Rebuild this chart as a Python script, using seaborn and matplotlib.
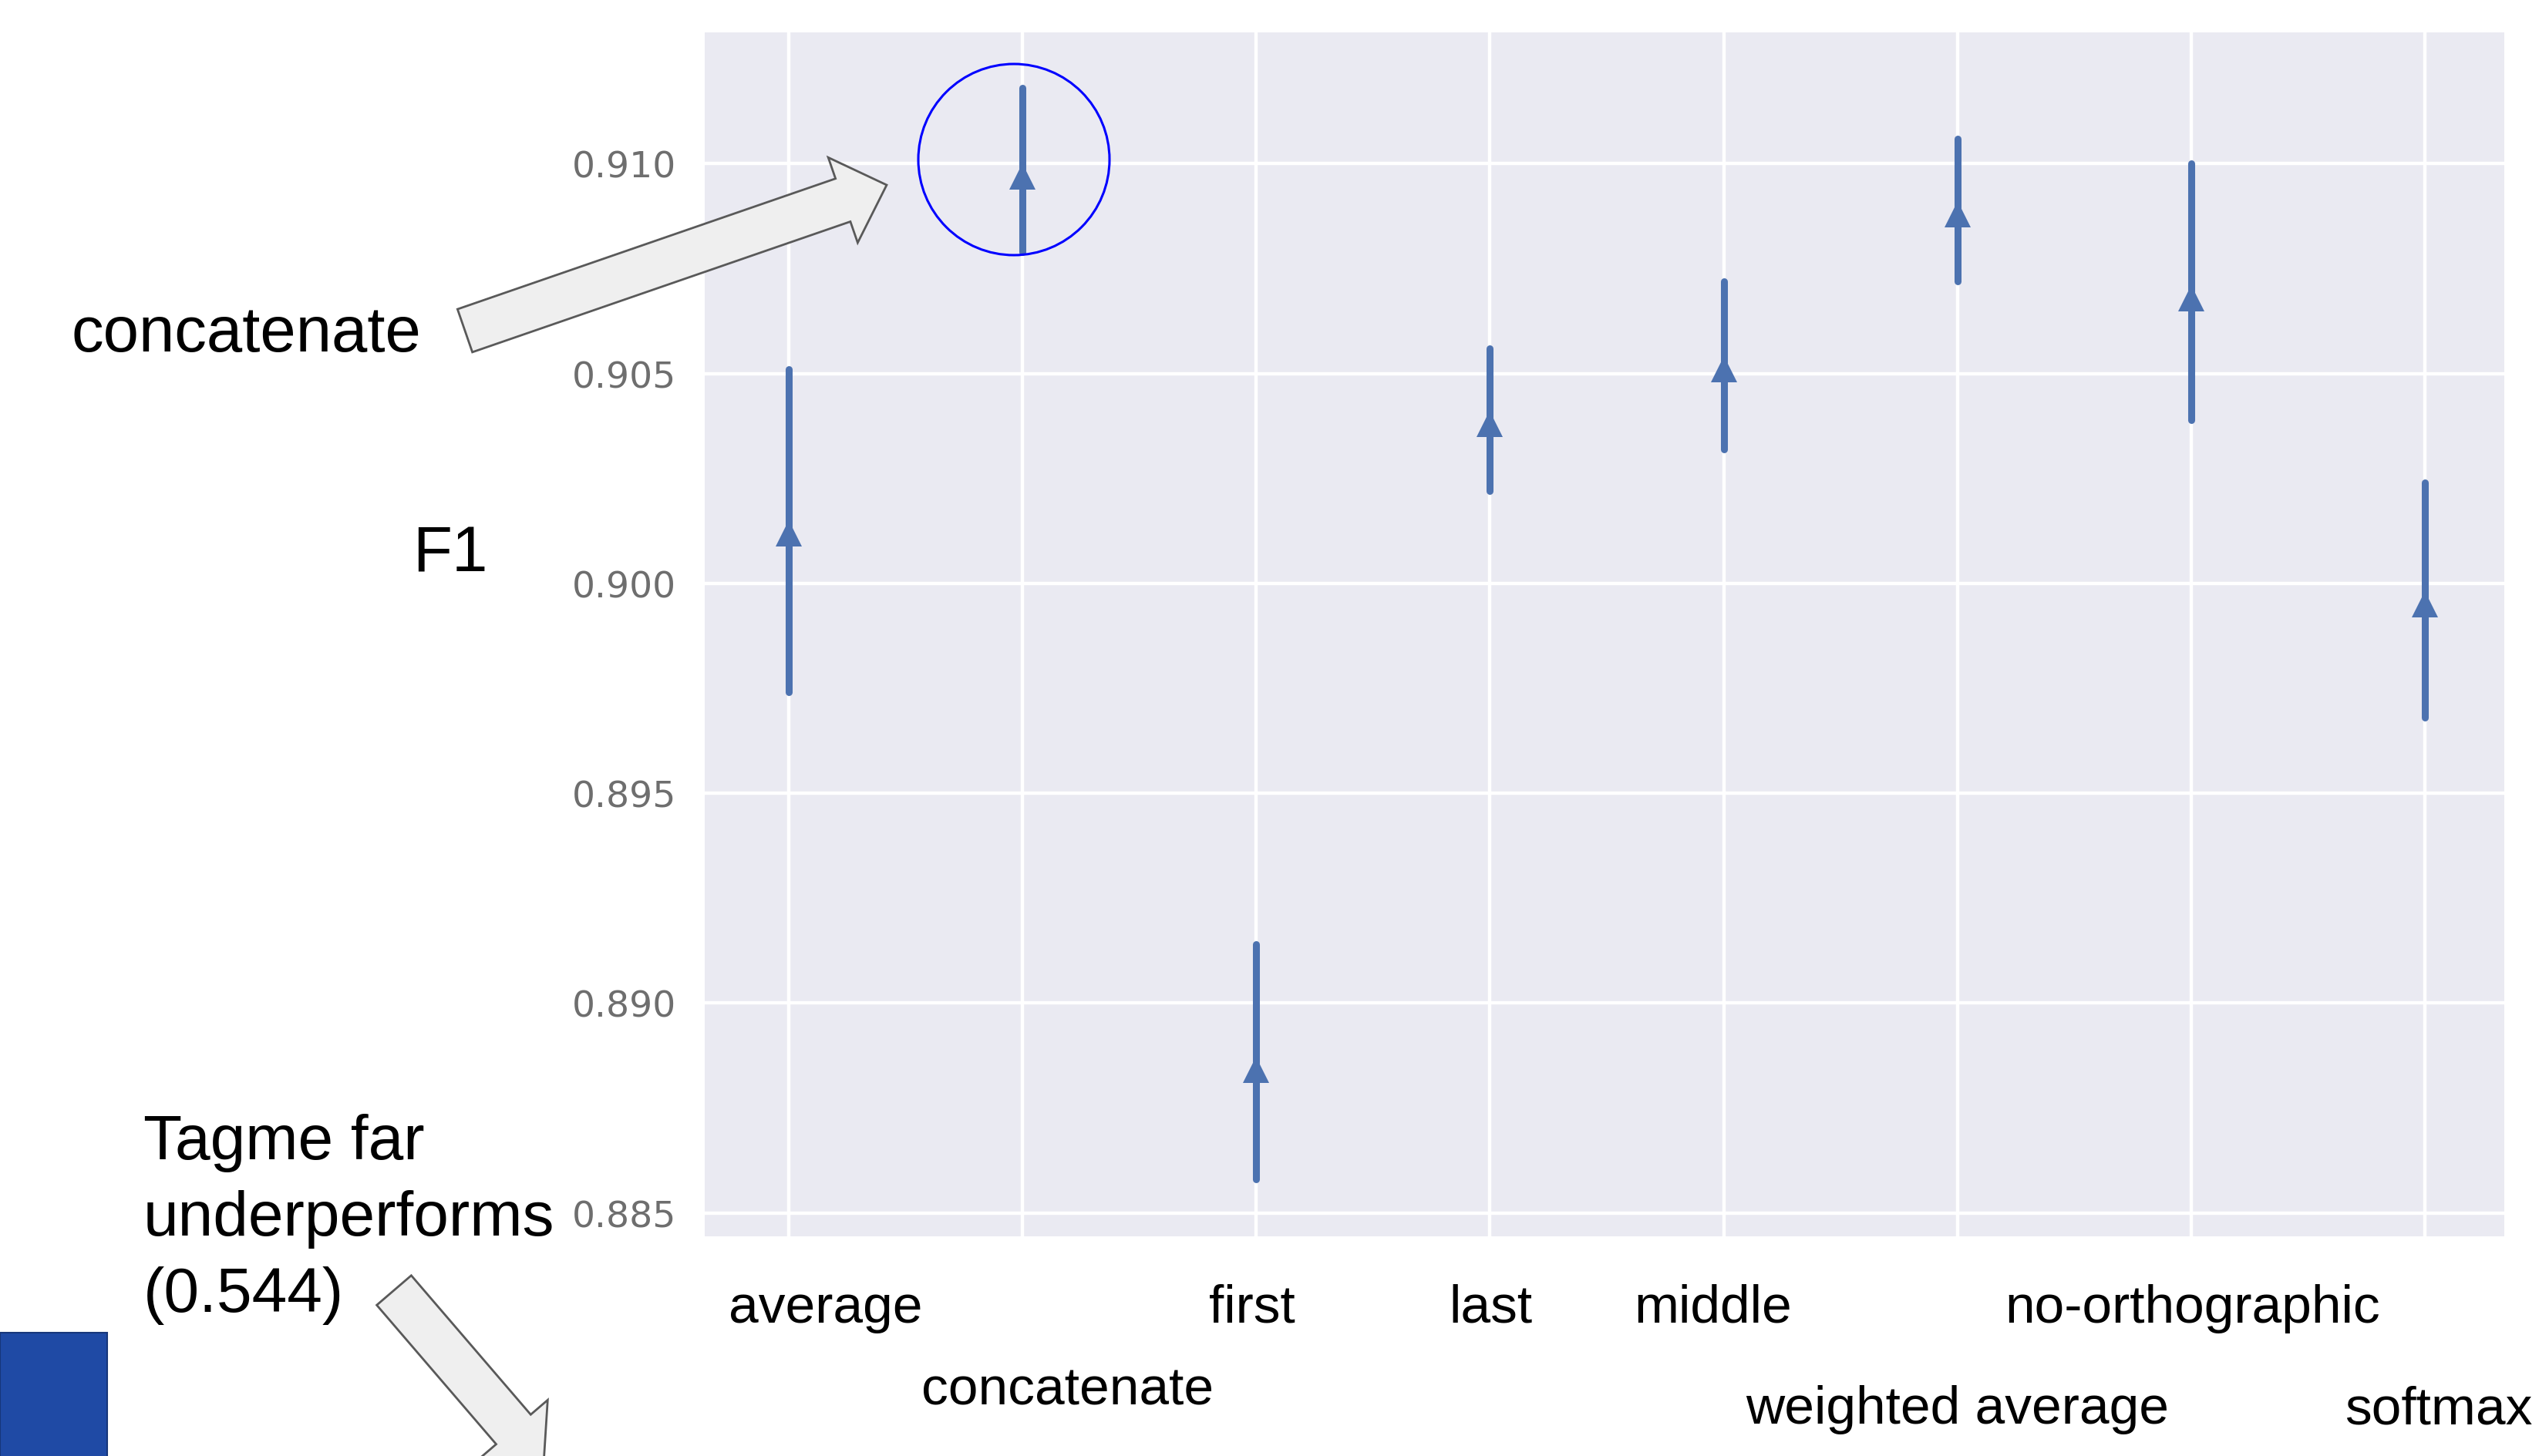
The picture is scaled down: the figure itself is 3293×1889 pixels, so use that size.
import pandas as pd
import matplotlib.pyplot as plt
import matplotlib.patches as mpatches
from matplotlib.ticker import FormatStrFormatter
import seaborn as sns

# Values (F1 per aggregation method, with interval ends)
methods = [
    "average",
    "concatenate",
    "first",
    "last",
    "middle",
    "weighted average",
    "no-orthographic",
    "softmax",
]
f1_mean = [0.9012, 0.9097, 0.8884, 0.9038, 0.9051, 0.9088, 0.9068, 0.8995]
f1_low = [0.8974, 0.9079, 0.8858, 0.9022, 0.9032, 0.9072, 0.9039, 0.8968]
f1_high = [0.9051, 0.9118, 0.8914, 0.9056, 0.9072, 0.9106, 0.9100, 0.9024]
y_ticks = [0.885, 0.890, 0.895, 0.900, 0.905, 0.910]

# Slide texts
side_note = "concatenate"
tagme_lines = ["Tagme far", "underperforms", "(0.544)"]

# Layout of the hand placed x labels: (shift in px, distance below axes in px)
label_layout = [
    (48, 111),
    (58, 218),
    (-5, 111),
    (1, 111),
    (-14, 111),
    (0, 242),
    (2, 111),
    (18, 243),
]

W, H = 3293, 1890

sns.set_theme(style="darkgrid")
plt.rcParams["font.family"] = ["Liberation Sans", "DejaVu Sans"]

# long form table: low / mean / high per method -> median + (min, max) interval
rows = []
for m, lo, mu, hi in zip(methods, f1_low, f1_mean, f1_high):
    for v in (lo, mu, hi):
        rows.append({"method": m, "F1": v})
df = pd.DataFrame(rows)

fig = plt.figure(figsize=(W / 100, H / 100), dpi=100)
ax = fig.add_axes([914 / W, 1 - 1605 / H, 2334 / W, 1562 / H])

sns.pointplot(
    data=df,
    x="method",
    y="F1",
    order=methods,
    estimator="median",
    errorbar=lambda v: (v.min(), v.max()),
    markers="^",
    linestyle="none",
    color="#4C72B0",
    markersize=24,
    markeredgewidth=0,
    err_kws={"linewidth": 6.5},
    ax=ax,
)

ax.set_xlim(-0.36, 7.34)
ax.set_ylim(0.88444, 0.91313)
ax.set_yticks(y_ticks)
ax.yaxis.set_major_formatter(FormatStrFormatter("%.3f"))
ax.grid(True, color="white", linewidth=3.2)
ax.tick_params(axis="x", labelbottom=False, length=0)
ax.tick_params(axis="y", labelsize=34, labelcolor="#6e6e6e", pad=26.6, length=0)
plt.setp(ax.get_yticklabels(), family="DejaVu Sans")
for s in ax.spines.values():
    s.set_visible(False)

ax.set_xlabel("")
ax.set_ylabel("F1", rotation=0, fontsize=60, color="black")
ax.yaxis.set_label_coords(-0.1414, 0.553)
ax.yaxis.label.set_ha("center")
ax.yaxis.label.set_va("baseline")

# x labels placed like the slide text boxes (two staggered rows)
for i, (name, (dx, dy)) in enumerate(zip(methods, label_layout)):
    ax.annotate(
        name,
        xy=(i, 0),
        xycoords=("data", "axes fraction"),
        xytext=(dx, -dy),
        textcoords="offset pixels",
        ha="center",
        va="baseline",
        fontsize=50,
        color="black",
        annotation_clip=False,
    )

# Slide annotations drawn in pixel space on top of everything
over = fig.add_axes([0, 0, 1, 1])
over.set_xlim(0, W)
over.set_ylim(H, 0)
over.axis("off")

arrow_style = dict(
    width=59,
    head_width=117,
    head_length=60,
    length_includes_head=True,
    facecolor="#efefef",
    edgecolor="#595959",
    linewidth=2,
)
over.add_patch(mpatches.FancyArrow(603, 430, 547, -189, **arrow_style))
over.add_patch(mpatches.FancyArrow(511, 1675, 194, 226, **arrow_style))
over.add_patch(
    mpatches.Circle((1315, 208), 124, fill=False, edgecolor="#0000ff", linewidth=2.2)
)
over.add_patch(
    mpatches.Rectangle(
        (0, 1730), 139, 170, facecolor="#1f4aa5", edgecolor="#17367a", linewidth=1.5
    )
)

over.text(93, 456, side_note, fontsize=60, ha="left", va="baseline", color="black")
for k, line in enumerate(tagme_lines):
    over.text(186, 1504 + 99 * k, line, fontsize=59, ha="left", va="baseline",
              color="black")

fig.savefig("out.png", dpi=100)
